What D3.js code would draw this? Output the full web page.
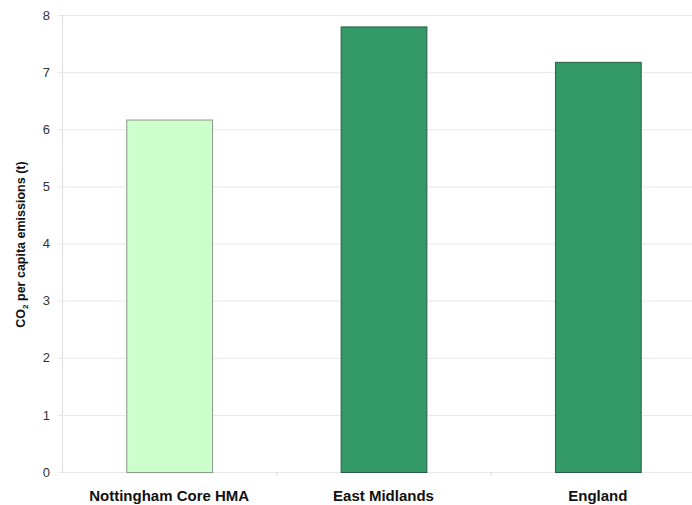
<!DOCTYPE html>
<html>
<head>
<meta charset="utf-8">
<script src="https://cdn.jsdelivr.net/npm/d3@7"></script>
<style>
    body { margin: 0; background: #fff; }
    text { font-family: "Liberation Sans", Arial, sans-serif; }
</style>
</head>
<body>
<div id="chart"></div>
<script>
const categories = ["Nottingham Core HMA", "East Midlands", "England"];
const emissions = [6.17, 7.8, 7.18];
const barColors = ["#ccffcc", "#339966", "#339966"];
const barStrokes = ["#8a9a8a", "#2b5e44", "#2b5e44"];
const yTicks = [0, 1, 2, 3, 4, 5, 6, 7, 8];

const margin = { top: 15, right: -13, bottom: 33, left: 62 };
const width = 692 - margin.left - margin.right;
const height = 505 - margin.top - margin.bottom;

const svg = d3.select("#chart")
    .append("svg")
    .attr("width", 692)
    .attr("height", 505)
    .append("g")
    .attr("transform", `translate(${margin.left}, ${margin.top})`);

const x = d3.scaleBand()
    .range([0, width])
    .domain(categories)
    .padding(0);

const y = d3.scaleLinear()
    .range([height, 0])
    .domain([0, 8]);

// gridlines
svg.selectAll(".grid")
    .data(yTicks)
    .enter()
    .append("line")
    .attr("x1", -4)
    .attr("x2", width)
    .attr("y1", d => y(d) + 0.5)
    .attr("y2", d => y(d) + 0.5)
    .attr("stroke", "#e8e8e8")
    .attr("stroke-width", 1);

// y axis
svg.append("line")
    .attr("x1", 0.5).attr("x2", 0.5)
    .attr("y1", 0).attr("y2", height)
    .attr("stroke", "#dddddd");

svg.append("g")
    .call(d3.axisLeft(y).tickValues(yTicks).tickSize(0).tickPadding(12))
    .call(g => g.select(".domain").remove())
    .selectAll("text")
    .attr("fill", "#333")
    .style("font-size", "13px");

// x axis ticks between categories
svg.append("g")
    .selectAll("line")
    .data(categories.slice(1))
    .enter()
    .append("line")
    .attr("x1", d => x(d) + 0.5)
    .attr("x2", d => x(d) + 0.5)
    .attr("y1", height)
    .attr("y2", height + 4)
    .attr("stroke", "#dddddd");

svg.append("g")
    .selectAll("text")
    .data(categories)
    .enter()
    .append("text")
    .attr("x", d => x(d) + x.bandwidth() / 2)
    .attr("y", height + 29)
    .attr("text-anchor", "middle")
    .attr("font-weight", "bold")
    .style("font-size", "15px")
    .attr("fill", "#111")
    .text(d => d);

// bars
const barW = x.bandwidth() * 0.4;
svg.selectAll(".bar")
    .data(categories.map((c, i) => ({ name: c, value: emissions[i], fill: barColors[i], stroke: barStrokes[i] })))
    .enter()
    .append("rect")
    .attr("x", d => x(d.name) + (x.bandwidth() - barW) / 2 + 0.5)
    .attr("y", d => y(d.value) + 0.5)
    .attr("width", barW)
    .attr("height", d => height - y(d.value))
    .attr("fill", d => d.fill)
    .attr("stroke", d => d.stroke)
    .attr("stroke-width", 1);

// y axis title
const title = svg.append("text")
    .attr("transform", `translate(${-37}, ${height / 2 + 1}) rotate(-90)`)
    .attr("text-anchor", "middle")
    .attr("font-weight", "bold")
    .style("font-size", "12.5px")
    .attr("fill", "#111");
title.append("tspan").text("CO");
title.append("tspan").attr("dy", 3).style("font-size", "8px").text("2");
title.append("tspan").attr("dy", -3).text(" per capita emissions (t)");
</script>
</body>
</html>
